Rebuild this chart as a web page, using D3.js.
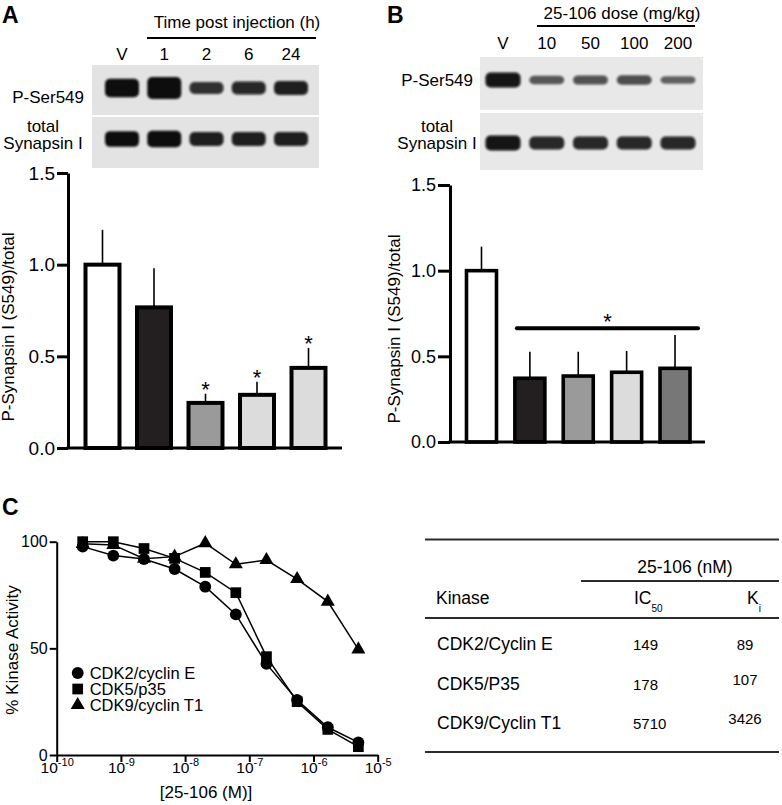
<!DOCTYPE html>
<html>
<head>
<meta charset="utf-8">
<script src="https://cdn.jsdelivr.net/npm/d3@7"></script>
<style>
  body { margin: 0; background: #fff; }
  svg { display: block; font-family: "Liberation Sans", Arial, Helvetica, sans-serif; }
  .axis path, .axis line { stroke: #000; }
  .axis text { fill: #000; }
</style>
</head>
<body>
<svg id="figure" width="782" height="805"></svg>
<script>
// Panel A - time after injection
const timeLanes = ["V", "1", "2", "6", "24"];
const timeMeans = [1.0, 0.767, 0.246, 0.29, 0.437];
const timeErrors = [0.19, 0.213, 0.05, 0.072, 0.109];
const timeSignificant = [false, false, true, true, true];
const timePhosphoDensity = [0.8, 1.0, 0.45, 0.5, 0.55];
const timeTotalDensity = [0.65, 0.7, 0.55, 0.55, 0.55];

// Panel B - dose
const doseLanes = ["V", "10", "50", "100", "200"];
const doseMeans = [1.0, 0.372, 0.385, 0.407, 0.43];
const doseErrors = [0.14, 0.155, 0.142, 0.124, 0.195];
const doseSigLevel = 0.664;
const dosePhosphoDensity = [0.6, 0.25, 0.28, 0.3, 0.2];
const doseTotalDensity = [0.6, 0.5, 0.5, 0.5, 0.5];

const barTicks = [0, 0.5, 1.0, 1.5];

// Panel C - kinase inhibition curves
const concentrations = [2.54e-10, 7.62e-10, 2.29e-9, 6.86e-9, 2.06e-8, 6.17e-8, 1.85e-7, 5.56e-7, 1.67e-6, 5e-6];
const cdk2Activity = [97.7, 93.5, 91.9, 87.2, 78.9, 65.9, 42.7, 25.8, 13.0, 5.9];
const cdk5Activity = [100, 100, 96.8, 92.2, 85.6, 76.1, 46.1, 25.0, 12.0, 3.9];
const cdk9Activity = [99, 98.5, 92, 93, 99.3, 89.4, 91.4, 82.5, 71.9, 49.5];
const seriesNames = ["CDK2/cyclin E", "CDK5/p35", "CDK9/cyclin T1"];
const concTicks = [1e-10, 1e-9, 1e-8, 1e-7, 1e-6, 1e-5];
const activityTicks = [0, 50, 100];

// Panel C - table
const tableKinases = ["CDK2/Cyclin E", "CDK5/P35", "CDK9/Cyclin T1"];
const tableIC50 = [149, 178, 5710];
const tableKi = [89, 107, 3426];

const svg = d3.select("#figure");

// blur for the blot bands
svg.append("defs").append("filter")
  .attr("id", "soft")
  .attr("x", "-30%").attr("y", "-60%").attr("width", "160%").attr("height", "220%")
  .append("feGaussianBlur").attr("stdDeviation", 1.3);

function panelLetter(txt, x, y) {
  svg.append("text")
    .attr("x", x).attr("y", y)
    .attr("font-size", 23).attr("font-weight", "bold")
    .text(txt);
}

/**
 * Western blot strip: header, lane labels and two band rows
 */
function drawBlot(cfg) {
  const g = svg.append("g");
  const lane = d3.scalePoint().domain(cfg.lanes).range(cfg.laneRange);

  g.append("text")
    .attr("x", cfg.titleX).attr("y", cfg.titleY)
    .attr("text-anchor", "middle")
    .attr("font-size", 17)
    .text(cfg.title);

  g.append("line")
    .attr("x1", cfg.ruleX[0]).attr("x2", cfg.ruleX[1])
    .attr("y1", cfg.ruleY).attr("y2", cfg.ruleY)
    .attr("stroke", "#000").attr("stroke-width", 1.8);

  g.selectAll(".lane-label")
    .data(cfg.lanes)
    .join("text")
    .attr("class", "lane-label")
    .attr("x", d => lane(d))
    .attr("y", cfg.laneLabelY)
    .attr("text-anchor", "middle")
    .attr("font-size", 17)
    .text(d => d);

  cfg.rows.forEach(row => {
    g.append("rect")
      .attr("x", cfg.panelX[0]).attr("y", row.y0)
      .attr("width", cfg.panelX[1] - cfg.panelX[0])
      .attr("height", row.y1 - row.y0)
      .attr("fill", cfg.background);

    const bands = row.density.map((d, i) => ({ lane: cfg.lanes[i], d }));
    g.selectAll(null)
      .data(bands)
      .join("rect")
      .attr("x", b => lane(b.lane) - cfg.bandWidth / 2)
      .attr("y", b => row.bandY - (4 + 18 * b.d) / 2)
      .attr("width", cfg.bandWidth)
      .attr("height", b => 4 + 18 * b.d)
      .attr("rx", 5)
      .attr("fill", "#0d0d0d")
      .attr("opacity", b => Math.min(1, 0.45 + 0.85 * b.d))
      .attr("filter", "url(#soft)");

    // row labels
    const lbl = g.append("text")
      .attr("font-size", 17)
      .attr("text-anchor", row.label.length > 1 ? "middle" : "end");
    if (row.label.length > 1) {
      row.label.forEach((t, i) => {
        lbl.append("tspan")
          .attr("x", cfg.labelCenter)
          .attr("y", row.labelY + i * 17)
          .text(t);
      });
    } else {
      lbl.attr("x", cfg.labelRight).attr("y", row.labelY).text(row.label[0]);
    }
  });
}

/**
 * Bar chart with upward error whiskers
 */
function drawBars(cfg) {
  const g = svg.append("g");
  const rows = cfg.lanes.map((lane, i) => ({
    lane, mean: cfg.means[i], err: cfg.errors[i], sig: cfg.sig ? cfg.sig[i] : false
  }));

  const x = d3.scaleBand().domain(cfg.lanes).range(cfg.xRange)
    .paddingInner(cfg.padInner).paddingOuter(cfg.padInner / 2);
  const y = d3.scaleLinear().domain([0, 1.5]).range(cfg.yRange);
  const fill = d3.scaleOrdinal().domain(cfg.lanes).range(cfg.fills);

  // error whiskers
  g.selectAll(".whisker")
    .data(rows)
    .join("line")
    .attr("class", "whisker")
    .attr("x1", d => x(d.lane) + x.bandwidth() / 2)
    .attr("x2", d => x(d.lane) + x.bandwidth() / 2)
    .attr("y1", d => y(d.mean))
    .attr("y2", d => y(d.mean + d.err))
    .attr("stroke", "#000").attr("stroke-width", 1.6);

  g.selectAll(".bar")
    .data(rows)
    .join("rect")
    .attr("class", "bar")
    .attr("x", d => x(d.lane))
    .attr("y", d => y(d.mean))
    .attr("width", x.bandwidth())
    .attr("height", d => y(0) - y(d.mean))
    .attr("fill", d => fill(d.lane))
    .attr("stroke", "#000")
    .attr("stroke-width", cfg.barStroke);

  g.selectAll(".star")
    .data(rows.filter(d => d.sig))
    .join("text")
    .attr("class", "star")
    .attr("x", d => x(d.lane) + x.bandwidth() / 2)
    .attr("y", d => y(d.mean + d.err) + 3)
    .attr("text-anchor", "middle")
    .attr("font-size", 22)
    .text("*");

  // y axis
  g.append("g")
    .attr("class", "axis")
    .attr("transform", `translate(${cfg.axisX},0)`)
    .call(d3.axisLeft(y).tickValues(barTicks).tickFormat(d3.format(".1f"))
      .tickSize(cfg.tickSize).tickSizeOuter(0).tickPadding(2))
    .call(a => a.selectAll("path, line").attr("stroke-width", 3))
    .call(a => a.selectAll("text").attr("font-size", cfg.tickFont).attr("font-family", null));

  // x baseline
  g.append("line")
    .attr("x1", cfg.axisX - 1.5).attr("x2", cfg.axisEnd)
    .attr("y1", y(0)).attr("y2", y(0))
    .attr("stroke", "#000").attr("stroke-width", 3);

  g.append("text")
    .attr("transform", `translate(${cfg.labelX},${cfg.labelY}) rotate(-90)`)
    .attr("text-anchor", "middle")
    .attr("font-size", 17)
    .text("P-Synapsin I (S549)/total");

  return { g, x, y };
}

// ---------- Panel A ----------
panelLetter("A", 2, 23);

drawBlot({
  lanes: timeLanes,
  laneRange: [122, 291],
  title: "Time post injection (h)", titleX: 237, titleY: 28,
  ruleX: [147, 316], ruleY: 38,
  laneLabelY: 60,
  panelX: [92, 319],
  background: "#e3e3e3",
  bandWidth: 34,
  labelRight: 84, labelCenter: 43,
  rows: [
    { y0: 65, y1: 115, bandY: 88, density: timePhosphoDensity, label: ["P-Ser549"], labelY: 103 },
    { y0: 117, y1: 168, bandY: 139, density: timeTotalDensity, label: ["total", "Synapsin I"], labelY: 132 }
  ]
});

drawBars({
  lanes: timeLanes, means: timeMeans, errors: timeErrors, sig: timeSignificant,
  fills: ["#ffffff", "#231f20", "#9a9a9a", "#dcdcdc", "#dcdcdc"],
  xRange: [76.75, 334.25], padInner: 0.34,
  yRange: [448, 173],
  axisX: 68, axisEnd: 342, tickSize: 11, tickFont: 19, barStroke: 4,
  labelX: 14, labelY: 327
});

// ---------- Panel B ----------
panelLetter("B", 387, 23);

drawBlot({
  lanes: doseLanes,
  laneRange: [503, 678],
  title: "25-106 dose (mg/kg)", titleX: 622, titleY: 19,
  ruleX: [537, 695], ruleY: 26,
  laneLabelY: 49,
  panelX: [480, 703],
  background: "#e8e8e8",
  bandWidth: 35,
  labelRight: 473, labelCenter: 437,
  rows: [
    { y0: 57, y1: 110, bandY: 80, density: dosePhosphoDensity, label: ["P-Ser549"], labelY: 86 },
    { y0: 113, y1: 170, bandY: 143, density: doseTotalDensity, label: ["total", "Synapsin I"], labelY: 132 }
  ]
});

const barsB = drawBars({
  lanes: doseLanes, means: doseMeans, errors: doseErrors, sig: null,
  fills: ["#ffffff", "#231f20", "#9a9a9a", "#dcdcdc", "#777777"],
  xRange: [457.3, 699.2], padInner: 0.38,
  yRange: [442, 185],
  axisX: 450, axisEnd: 705, tickSize: 12, tickFont: 18, barStroke: 3.6,
  labelX: 400, labelY: 329
});

// significance bar across all doses
{
  const { g, x, y } = barsB;
  const xs = x(doseLanes[1]) + 2;
  const xe = x(doseLanes[doseLanes.length - 1]) + x.bandwidth() + 8;
  g.append("line")
    .attr("x1", xs).attr("x2", xe)
    .attr("y1", y(doseSigLevel)).attr("y2", y(doseSigLevel))
    .attr("stroke", "#000").attr("stroke-width", 4).attr("stroke-linecap", "round");
  g.append("text")
    .attr("x", (xs + xe) / 2).attr("y", y(doseSigLevel) + 1)
    .attr("text-anchor", "middle").attr("font-size", 22)
    .text("*");
}

// ---------- Panel C: dose-response ----------
panelLetter("C", 2, 515);

{
  const g = svg.append("g");
  const x = d3.scaleLog().domain([1e-10, 1e-5]).range([56.7, 377.7]);
  const y = d3.scaleLinear().domain([0, 100]).range([755, 541.7]);

  const series = [
    { name: seriesNames[2], values: cdk9Activity, symbol: d3.symbolTriangle, size: 85 },
    { name: seriesNames[0], values: cdk2Activity, symbol: d3.symbolCircle, size: 110 },
    { name: seriesNames[1], values: cdk5Activity, symbol: d3.symbolSquare, size: 115 }
  ];

  const line = d3.line().x(d => x(d.c)).y(d => y(d.v));

  series.forEach(s => {
    const pts = concentrations.map((c, i) => ({ c, v: s.values[i] }));
    g.append("path")
      .datum(pts)
      .attr("d", line)
      .attr("fill", "none")
      .attr("stroke", "#000")
      .attr("stroke-width", 1.5);
    g.selectAll(null)
      .data(pts)
      .join("path")
      .attr("transform", d => `translate(${x(d.c)},${y(d.v)})`)
      .attr("d", d3.symbol().type(s.symbol).size(s.size))
      .attr("fill", "#000");
  });

  g.append("g")
    .attr("class", "axis")
    .attr("transform", "translate(56.7,0)")
    .call(d3.axisLeft(y).tickValues(activityTicks).tickFormat(d3.format("d"))
      .tickSize(7).tickSizeOuter(0).tickPadding(2))
    .call(a => a.selectAll("path, line").attr("stroke-width", 2))
    .call(a => a.selectAll("text").attr("font-size", 16).attr("font-family", null));

  g.append("g")
    .attr("class", "axis")
    .attr("transform", "translate(0,755)")
    .call(d3.axisBottom(x).tickValues(concTicks).tickFormat(() => "10")
      .tickSize(7).tickSizeOuter(0))
    .call(a => a.selectAll("path, line").attr("stroke-width", 2))
    .call(a => a.selectAll("text")
      .attr("font-size", 15.5).attr("font-family", null)
      .attr("y", 18).attr("dy", 0)
      .each(function (d) {
        d3.select(this).append("tspan")
          .attr("dy", -7)
          .attr("font-size", 11)
          .text(Math.round(Math.log10(d)));
      }));

  g.append("text")
    .attr("x", 206).attr("y", 798)
    .attr("text-anchor", "middle")
    .attr("font-size", 17)
    .text("[25-106 (M)]");

  g.append("text")
    .attr("transform", "translate(18,650) rotate(-90)")
    .attr("text-anchor", "middle")
    .attr("font-size", 17)
    .text("% Kinase Activity");

  // legend
  const legendY = d3.scalePoint().domain(seriesNames).range([673, 705]);
  const legend = g.selectAll(".legend")
    .data(series)
    .join("g")
    .attr("class", "legend")
    .attr("transform", s => `translate(77.7,${legendY(s.name)})`);
  legend.append("path")
    .attr("d", s => d3.symbol().type(s.symbol).size(s.size)())
    .attr("fill", "#000");
  legend.append("text")
    .attr("x", 12).attr("y", 6)
    .attr("font-size", 16.5)
    .text(s => s.name);
}

// ---------- Panel C: table ----------
{
  const g = svg.append("g");
  const rowY = d3.scalePoint().domain(tableKinases).range([650, 729]);
  const rule = (x1, x2, yy) => g.append("line")
    .attr("x1", x1).attr("x2", x2).attr("y1", yy).attr("y2", yy)
    .attr("stroke", "#2b2b2b").attr("stroke-width", 2);

  rule(425, 779, 539.5);
  rule(581, 779, 581);
  rule(425, 779, 618);
  rule(425, 779, 752);

  g.append("text").attr("x", 685).attr("y", 573).attr("text-anchor", "middle")
    .attr("font-size", 17.5).text("25-106 (nM)");
  g.append("text").attr("x", 436).attr("y", 604)
    .attr("font-size", 17.5).text("Kinase");

  const ic = g.append("text").attr("x", 634).attr("y", 604).attr("font-size", 17.5);
  ic.append("tspan").text("IC");
  ic.append("tspan").attr("dy", 8).attr("font-size", 10).text("50");

  const ki = g.append("text").attr("x", 747).attr("y", 604).attr("font-size", 17.5);
  ki.append("tspan").text("K");
  ki.append("tspan").attr("dy", 8).attr("font-size", 10).text("i");

  const rows = tableKinases.map((k, i) => ({ k, ic50: tableIC50[i], ki: tableKi[i] }));
  g.selectAll(".kname").data(rows).join("text")
    .attr("class", "kname")
    .attr("x", 437).attr("y", d => rowY(d.k))
    .attr("font-size", 17.5)
    .text(d => d.k);
  g.selectAll(".ic50").data(rows).join("text")
    .attr("class", "ic50")
    .attr("x", 633).attr("y", d => rowY(d.k))
    .attr("font-size", 15)
    .text(d => d.ic50);
  g.selectAll(".ki").data(rows).join("text")
    .attr("class", "ki")
    .attr("x", 745).attr("y", (d, i) => rowY(d.k) - (i === 0 ? 0 : 5))
    .attr("text-anchor", "middle")
    .attr("font-size", 15)
    .text(d => d.ki);
}
</script>
</body>
</html>
